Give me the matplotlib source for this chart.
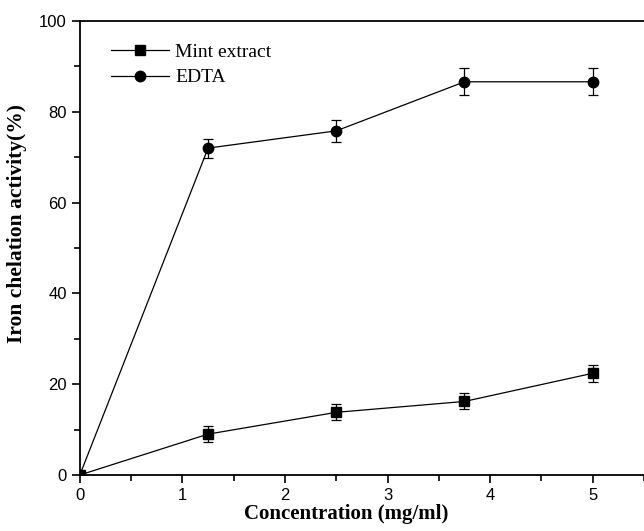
import matplotlib
matplotlib.use("Agg")
import matplotlib.pyplot as plt
from matplotlib.ticker import MultipleLocator
from matplotlib.lines import Line2D

concentration = [0, 1.25, 2.5, 3.75, 5]
mint = [0, 9.0, 13.8, 16.2, 22.4]
mint_err = [0, 1.7, 1.75, 1.75, 1.85]
edta = [0, 72.0, 75.8, 86.6, 86.6]
edta_err = [0, 2.1, 2.4, 3.0, 3.0]

fig = plt.figure(figsize=(6.44, 5.31), dpi=100)
ax = fig.add_axes([0.124, 0.1055, 0.876, 0.855])

ax.errorbar(concentration, mint, yerr=mint_err, color='black', marker='s',
            markersize=6.5, linewidth=0.9, elinewidth=0.9, capsize=3.5,
            capthick=0.9)
ax.errorbar(concentration, edta, yerr=edta_err, color='black', marker='o',
            markersize=7.5, linewidth=0.9, elinewidth=0.9, capsize=3.5,
            capthick=0.9)

ax.set_xlim(0, 5.5)
ax.set_ylim(0, 100)
ax.xaxis.set_major_locator(MultipleLocator(1))
ax.xaxis.set_minor_locator(MultipleLocator(0.5))
ax.yaxis.set_major_locator(MultipleLocator(20))
ax.yaxis.set_minor_locator(MultipleLocator(10))
ax.tick_params(which='major', direction='out', length=6, width=1.2,
               labelsize=12)
ax.tick_params(which='minor', direction='out', length=4, width=1.2)
for lab in ax.get_xticklabels() + ax.get_yticklabels():
    lab.set_family('Liberation Sans')
ax.spines['right'].set_visible(False)
for s in ['left', 'bottom', 'top']:
    ax.spines[s].set_linewidth(1.3)

ax.set_xlabel('Concentration (mg/ml)', family='Liberation Serif',
              fontweight='bold', fontsize=15)
ax.set_ylabel('Iron chelation activity(%)', family='Liberation Serif',
              fontweight='bold', fontsize=15.5)
ax.xaxis.set_label_coords(0.472, -0.064)
ax.yaxis.set_label_coords(-0.093, 0.555)

handles = [
    Line2D([], [], color='black', marker='s', markersize=6.5, linewidth=0.9),
    Line2D([], [], color='black', marker='o', markersize=7.5, linewidth=0.9),
]
ax.legend(handles, ['Mint extract', 'EDTA'], loc='upper left', frameon=False,
          bbox_to_anchor=(0.024, 0.99),
          prop={'family': 'Liberation Serif', 'size': 14},
          handlelength=3.0, handletextpad=0.3, labelspacing=0.42)

fig.savefig('out.png', dpi=100)
